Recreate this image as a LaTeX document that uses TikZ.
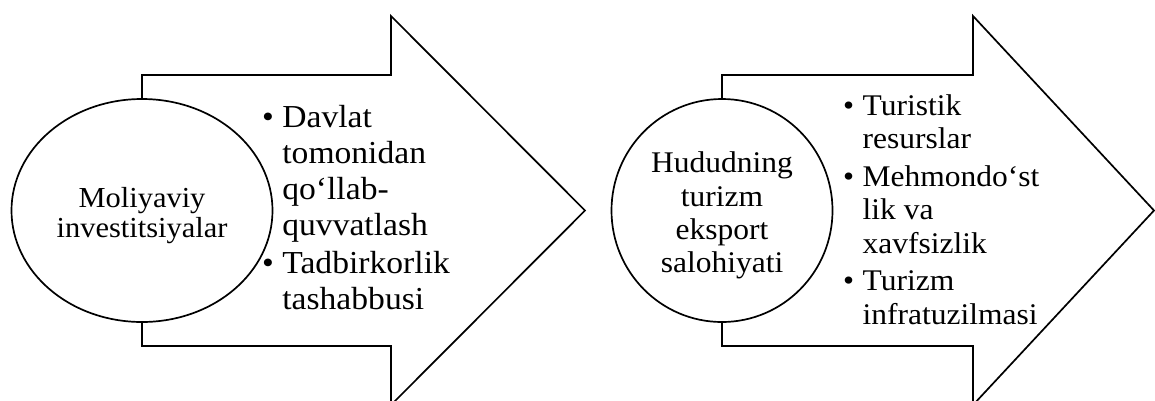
\documentclass[tikz,border=0pt]{standalone}
\usepackage{graphicx}
\usepackage{fontspec}
\setmainfont{Liberation Serif}
\usetikzlibrary{shapes.geometric}

% the source text is set a little wider than it is tall
\newcommand{\widetext}[1]{\scalebox{1.05}[1]{#1}}

\tikzset{
  outline/.style={draw=black, line width=1.7pt, line join=miter},
  hub/.style={ellipse, outline, fill=white, inner sep=0pt},
  hubtext/.style={inner sep=0pt, align=center},
  items/.style={anchor=base west, inner sep=0pt}
}

\begin{document}
\begin{tikzpicture}[x=1pt, y=-1pt]
  \useasboundingbox (0,0) rectangle (1155,400);

  % the two block arrows: shaft start / head start / tip
  \foreach \sx/\hx/\tx in {142/391/585, 722/973/1154}{
    \draw[outline, fill=white]
      (\sx,75) -- (\hx,75) -- (\hx,16) -- (\tx,210.5) --
      (\hx,405) -- (\hx,346) -- (\sx,346) -- cycle;
  }

  \node[hub, minimum width=261pt, minimum height=223pt] (finance) at (142,210.5) {};
  \node[hub, minimum width=221pt, minimum height=223pt] (potential) at (722,210.5) {};

  \node[hubtext] (financetext) at (142,216)
    {\fontsize{29}{30}\selectfont\widetext{\begin{tabular}{@{}c@{}}Moliyaviy\\investitsiyalar\end{tabular}}};
  \node[hubtext] (potentialtext) at (722,216)
    {\fontsize{30}{33.3}\selectfont\widetext{\begin{tabular}{@{}c@{}}Hududning\\turizm\\eksport\\salohiyati\end{tabular}}};

  \node[items] (financeitems) at (262,127)
    {\fontsize{32}{36}\selectfont\widetext{\begin{tabular}[t]{@{}l@{\hspace{8pt}}l@{}}
      \textbullet & Davlat\\ & tomonidan\\ & qo‘llab-\\ & quvvatlash\\[2pt]
      \textbullet & Tadbirkorlik\\ & tashabbusi
    \end{tabular}}};
  \node[items] (potentialitems) at (843,115)
    {\fontsize{30}{33.5}\selectfont\widetext{\begin{tabular}[t]{@{}l@{\hspace{8pt}}l@{}}
      \textbullet & Turistik\\ & resurslar\\[4pt]
      \textbullet & Mehmondo‘st\\ & lik va\\ & xavfsizlik\\[4pt]
      \textbullet & Turizm\\ & infratuzilmasi
    \end{tabular}}};
\end{tikzpicture}
\end{document}
